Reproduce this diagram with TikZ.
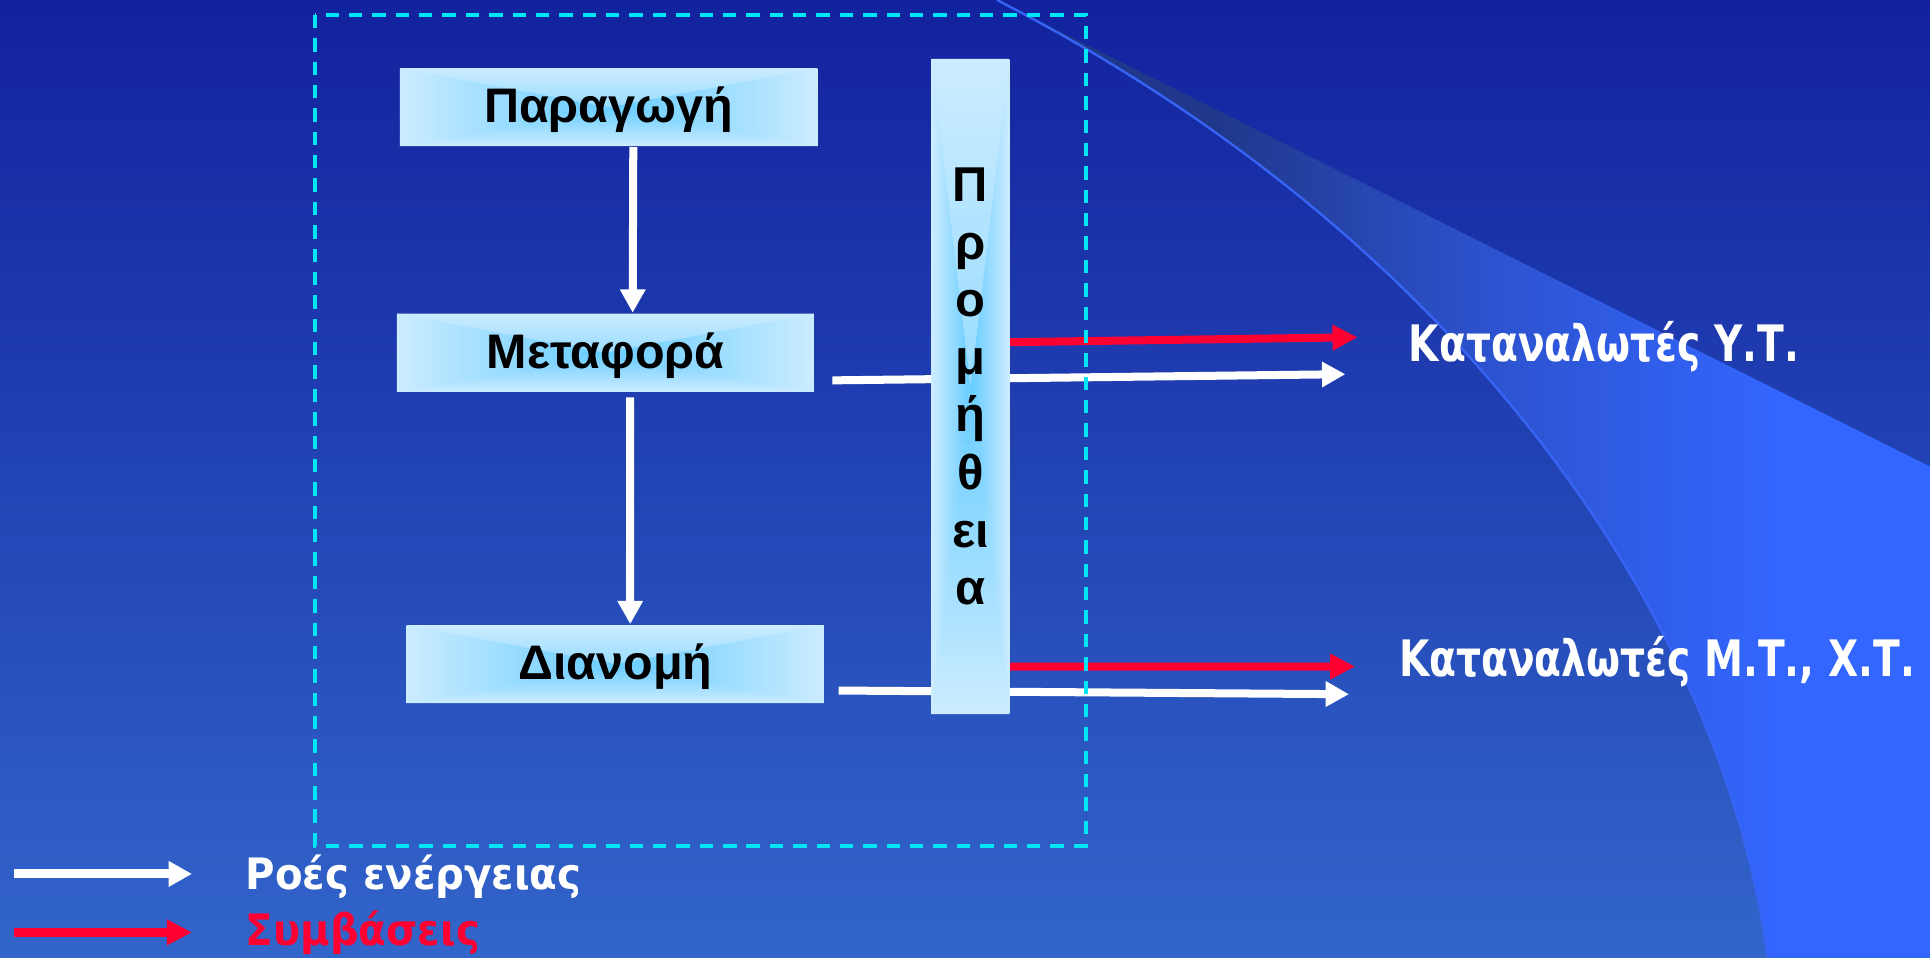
\documentclass[tikz,border=0pt]{standalone}
\usepackage{fontspec}
\setmainfont{Liberation Sans}
\newfontfamily\labfontA[FakeStretch=0.78]{DejaVu Sans}
\newfontfamily\labfontB[FakeStretch=0.93]{DejaVu Sans}
\usetikzlibrary{arrows.meta}
\definecolor{bgtop}{RGB}{18,34,158}
\definecolor{bgbot}{RGB}{50,101,202}
\definecolor{wd1}{RGB}{32,56,140}
\definecolor{wd2}{RGB}{44,82,205}
\definecolor{wd3}{RGB}{51,102,255}
\definecolor{cpale}{RGB}{204,236,255}
\definecolor{cblue}{RGB}{102,204,255}
\definecolor{cdash}{RGB}{0,230,245}
\definecolor{cred}{RGB}{255,0,51}
\definecolor{cline}{RGB}{55,100,245}
\pgfdeclareverticalshading{pyrT}{100bp}{color(0bp)=(cblue); color(25bp)=(cblue); color(75bp)=(cpale); color(100bp)=(cpale)}
\pgfdeclareverticalshading{pyrB}{100bp}{color(0bp)=(cpale); color(25bp)=(cpale); color(75bp)=(cblue); color(100bp)=(cblue)}
\pgfdeclarehorizontalshading{pyrL}{100bp}{color(0bp)=(cpale); color(25bp)=(cpale); color(75bp)=(cblue); color(100bp)=(cblue)}
\pgfdeclarehorizontalshading{pyrR}{100bp}{color(0bp)=(cblue); color(25bp)=(cblue); color(75bp)=(cpale); color(100bp)=(cpale)}
\pgfdeclarehorizontalshading{wedgesh}{100bp}{color(0bp)=(wd1); color(37bp)=(wd1); color(51bp)=(wd2); color(67bp)=(wd3); color(100bp)=(wd3)}
\pgfdeclarelayer{bg}
\pgfsetlayers{bg,main}
\begin{document}
\begin{tikzpicture}[x=0.01cm,y=-0.01cm,
  pyrbox/.style={rectangle, inner sep=0pt, fill=cpale, text=black,
    path picture={
      \shade[shading=pyrT] (path picture bounding box.north west) -- (path picture bounding box.north east) -- (path picture bounding box.center) -- cycle;
      \shade[shading=pyrB] (path picture bounding box.south west) -- (path picture bounding box.south east) -- (path picture bounding box.center) -- cycle;
      \shade[shading=pyrL] (path picture bounding box.north west) -- (path picture bounding box.south west) -- (path picture bounding box.center) -- cycle;
      \shade[shading=pyrR] (path picture bounding box.north east) -- (path picture bounding box.south east) -- (path picture bounding box.center) -- cycle;
    }},
  hbox/.style={pyrbox, minimum width=3.39cm, minimum height=0.634cm,
    font=\bfseries\fontsize{11.2}{13}\selectfont, text height=0.716em, text depth=0pt},
  warrow/.style={draw=white, line width=1.85pt, -{Triangle[length=5.4pt,width=5.6pt]}},
  rarrow/.style={draw=cred, line width=1.85pt, -{Triangle[length=5.8pt,width=5.6pt]}},
  lablarge/.style={text=white, font=\labfontA\bfseries\fontsize{11.6}{14}\selectfont, inner sep=0pt},
  lablegend/.style={font=\labfontB\bfseries\fontsize{10}{12}\selectfont, inner sep=0pt},
  dashbox/.style={draw=cdash, line width=0.9pt, dash pattern=on 3.1pt off 2.3pt},
  curveline/.style={draw=cline, line width=0.55pt}
]
\useasboundingbox (0,0) rectangle (1568,778);
\begin{pgfonlayer}{bg}
  \shade[top color=bgtop, bottom color=bgbot] (0,0) rectangle (1568,778);
  \shade[shading=wedgesh] (810,0) .. controls (1184,192) and (1400,500) .. (1436,778) -- (1568,778) -- (1568,379) -- cycle;
  \draw[curveline] (810,0) .. controls (1184,192) and (1400,500) .. (1436,778);
\end{pgfonlayer}

% boxes
\node[hbox] (parag) at (494.5,87) {Παραγωγή};
\node[hbox] (metaf) at (492,286.5) {Μεταφορά};
\node[hbox] (dian) at (500,539.5) {Διανομή};
\node[pyrbox, minimum width=0.63cm, minimum height=5.32cm, align=center,
  font=\bfseries\fontsize{11.3}{13.3}\selectfont] (prom) at (788.5,314)
  {Π\\ρ\\ο\\μ\\ή\\θ\\ει\\α};

% free arrow ends
\coordinate (w1end) at (1093,304);
\coordinate (r1end) at (1103,274);
\coordinate (w2end) at (1096,564);
\coordinate (r2end) at (1101,541.5);

% white energy flows behind the supply box
\begin{pgfonlayer}{bg}
  \draw[warrow] ([xshift=0.14cm,yshift=-0.225cm]metaf.east) -- (w1end);
  \draw[warrow] ([xshift=0.11cm,yshift=-0.215cm]dian.east) -- (w2end);
\end{pgfonlayer}

% vertical flows
\draw[warrow] ([xshift=0.2cm]parag.south) -- ([xshift=0.22cm]metaf.north);
\draw[warrow] ([xshift=0.2cm,yshift=-0.04cm]metaf.south) -- ([xshift=0.12cm]dian.north);

% contracts
\draw[rarrow] ([yshift=0.36cm]prom.east) -- (r1end);
\draw[rarrow] ([yshift=-2.275cm]prom.east) -- (r2end);

% dashed frame
\draw[dashbox] (256,12) rectangle (882,687);

% consumer labels
\node[lablarge, anchor=base west] (kyt) at (1144,294) {Καταναλωτές Υ.Τ.};
\node[lablarge, anchor=base west] (kmt) at (1136,550) {Καταναλωτές Μ.Τ., Χ.Τ.};

% legend
\coordinate (lw0) at (11,710);
\coordinate (lw1) at (156,710);
\coordinate (lr0) at (11,757.5);
\coordinate (lr1) at (156,757.5);
\draw[warrow, line width=2.1pt] (lw0) -- (lw1);
\draw[rarrow, line width=2.1pt] (lr0) -- (lr1);
\node[lablegend, text=white, anchor=base west] (legw) at (199,723) {Ροές ενέργειας};
\node[lablegend, text=cred, anchor=base west] (legr) at (199,768) {Συμβάσεις};
\end{tikzpicture}
\end{document}
